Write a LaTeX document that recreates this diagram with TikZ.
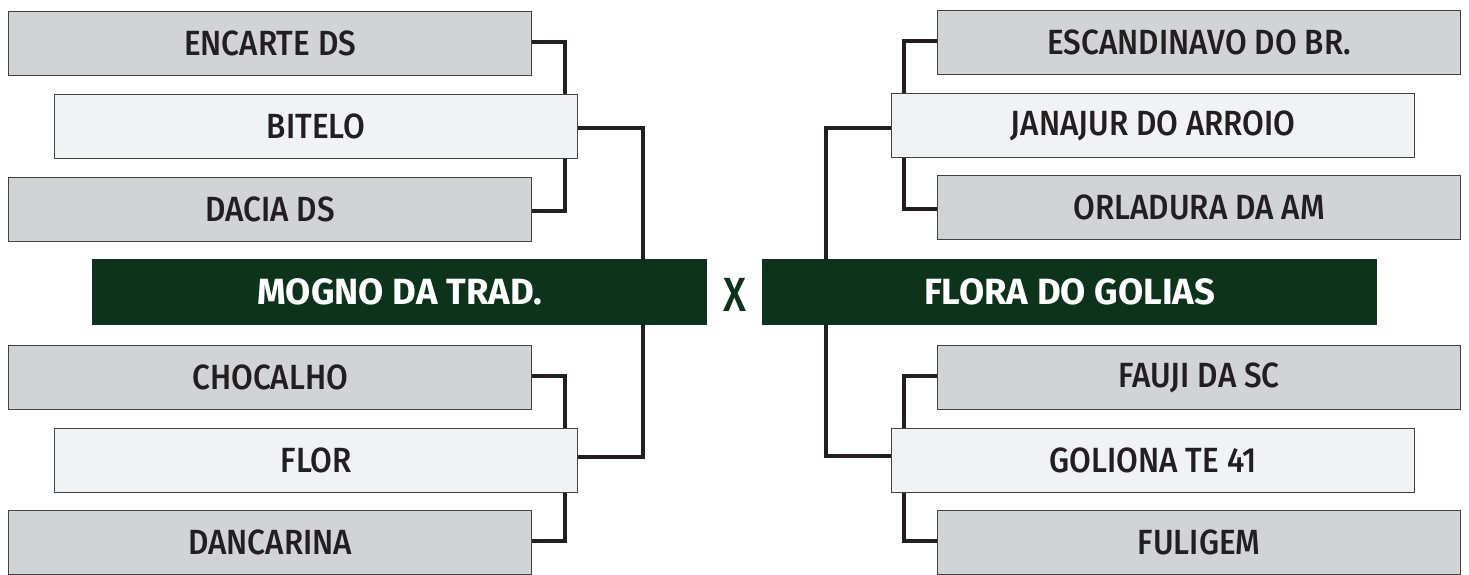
\documentclass[tikz,border=0pt]{standalone}
\usepackage{fontspec}
\setmainfont{Fira Sans}
\newfontfamily\teamfont{Fira Sans}[FakeStretch=0.90, UprightFont=* Medium]
\newfontfamily\titlefont{Fira Sans}[FakeStretch=1.0, UprightFont=* Bold]
\newfontfamily\xfont{Fira Sans}[FakeStretch=0.85, UprightFont=* Medium]
\definecolor{boxgray}{HTML}{D1D3D4}
\definecolor{boxlight}{HTML}{F1F2F3}
\definecolor{darkgreen}{HTML}{0E331C}
\definecolor{ink}{HTML}{231F20}
\begin{document}
\begin{tikzpicture}[x=1pt,y=-1pt,
  team/.style={draw=ink!85,line width=1.3pt,minimum height=64pt,inner sep=0pt,
    font=\teamfont\fontsize{35}{38}\selectfont,text=ink,anchor=north west},
  loser/.style={team,fill=boxgray,minimum width=523pt},
  winner/.style={team,fill=boxlight,minimum width=523pt},
  finalist/.style={fill=darkgreen,minimum width=615pt,minimum height=66pt,inner sep=0pt,
    font=\titlefont\fontsize{36.5}{38}\selectfont,text=white,anchor=north west},
  link/.style={draw=ink,line width=4.5pt}]
\useasboundingbox (0,0) rectangle (1469,574);
% left side
\node[loser]  (enc) at (8,11)   {ENCARTE DS};
\node[winner] (bit) at (54,94)  {BITELO};
\node[loser]  (dac) at (8,177)  {DACIA DS};
\node[finalist] (mog) at (92,259) {MOGNO DA TRAD.};
\node[loser]  (cho) at (8,345)  {CHOCALHO};
\node[winner] (flo) at (54,428) {FLOR};
\node[loser]  (dan) at (8,510)  {DANCARINA};
% right side
\node[loser]  (esc) at (937,10)  {ESCANDINAVO DO BR.};
\node[winner] (jan) at (891,93)  {JANAJUR DO ARROIO};
\node[loser]  (orl) at (937,175) {ORLADURA DA AM};
\node[finalist] (flg) at (762,259) {FLORA DO GOLIAS};
\node[loser]  (fau) at (937,345) {FAUJI DA SC};
\node[winner] (gol) at (891,428) {GOLIONA TE 41};
\node[loser]  (ful) at (937,510) {FULIGEM};
\node[text=darkgreen,font=\xfont\fontsize{48}{48}\selectfont,inner sep=0pt] (x) at (735,295) {X};
% left connectors
\path[link] (enc.east |- 0,42) -| (bit.north -| 565,0);
\path[link] (bit.south -| 565,0) |- (dac.east |- 0,211);
\path[link] (bit.east |- 0,128) -| (mog.north -| 643,0);
\path[link] (cho.east |- 0,376) -| (flo.north -| 565,0);
\path[link] (flo.south -| 565,0) |- (dan.east |- 0,541);
\path[link] (flo.east |- 0,457) -| (mog.south -| 643,0);
% right connectors
\path[link] (esc.west |- 0,41) -| (jan.north -| 904,0);
\path[link] (jan.south -| 904,0) |- (orl.west |- 0,209);
\path[link] (jan.west |- 0,128) -| (flg.north -| 826,0);
\path[link] (fau.west |- 0,376) -| (gol.north -| 904,0);
\path[link] (gol.south -| 904,0) |- (ful.west |- 0,541);
\path[link] (gol.west |- 0,456) -| (flg.south -| 826,0);
\end{tikzpicture}
\end{document}
